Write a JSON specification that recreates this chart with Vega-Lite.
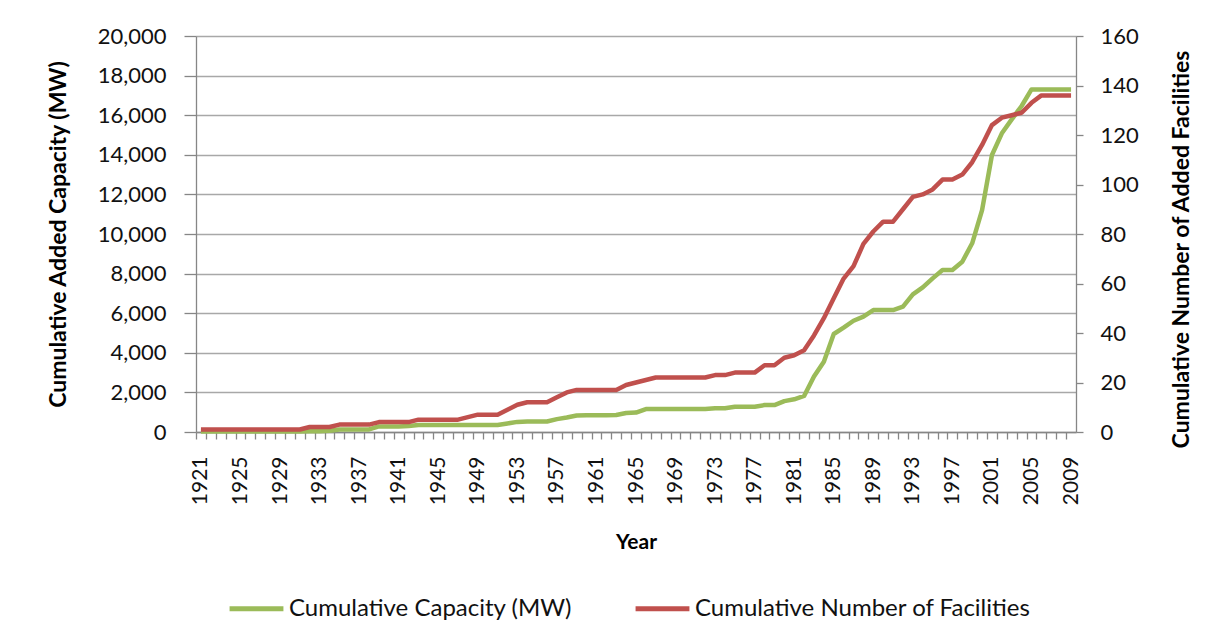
{
  "$schema": "https://vega.github.io/schema/vega-lite/v6.json",
  "autosize": "none",
  "width": 880,
  "height": 396,
  "padding": {"left": 196, "top": 36, "right": 149, "bottom": 211},
  "background": "white",
  "config": {
    "font": "Lato",
    "view": {"stroke": null},
    "axis": {"labelFont": "Lato", "titleFont": "Lato", "labelColor": "#111", "titleColor": "#000", "domainColor": "#868686", "tickColor": "#868686", "gridColor": "#A8A8A8", "domainWidth": 1.3, "tickWidth": 1.3, "gridWidth": 1.3},
    "legend": {"labelFont": "Lato", "labelFontSize": 24, "labelColor": "#111", "labelLimit": 0, "symbolType": "stroke", "symbolStrokeWidth": 5, "symbolSize": 2900, "labelOffset": 3, "columnPadding": 52, "padding": 0}
  },
  "data": {"values": [
    {"year": 1921, "capacity": 20, "facilities": 1},
    {"year": 1922, "capacity": 20, "facilities": 1},
    {"year": 1923, "capacity": 20, "facilities": 1},
    {"year": 1924, "capacity": 20, "facilities": 1},
    {"year": 1925, "capacity": 20, "facilities": 1},
    {"year": 1926, "capacity": 20, "facilities": 1},
    {"year": 1927, "capacity": 20, "facilities": 1},
    {"year": 1928, "capacity": 20, "facilities": 1},
    {"year": 1929, "capacity": 20, "facilities": 1},
    {"year": 1930, "capacity": 20, "facilities": 1},
    {"year": 1931, "capacity": 20, "facilities": 1},
    {"year": 1932, "capacity": 40, "facilities": 2},
    {"year": 1933, "capacity": 40, "facilities": 2},
    {"year": 1934, "capacity": 60, "facilities": 2},
    {"year": 1935, "capacity": 130, "facilities": 3},
    {"year": 1936, "capacity": 130, "facilities": 3},
    {"year": 1937, "capacity": 130, "facilities": 3},
    {"year": 1938, "capacity": 130, "facilities": 3},
    {"year": 1939, "capacity": 280, "facilities": 4},
    {"year": 1940, "capacity": 280, "facilities": 4},
    {"year": 1941, "capacity": 280, "facilities": 4},
    {"year": 1942, "capacity": 300, "facilities": 4},
    {"year": 1943, "capacity": 350, "facilities": 5},
    {"year": 1944, "capacity": 350, "facilities": 5},
    {"year": 1945, "capacity": 350, "facilities": 5},
    {"year": 1946, "capacity": 350, "facilities": 5},
    {"year": 1947, "capacity": 350, "facilities": 5},
    {"year": 1948, "capacity": 350, "facilities": 6},
    {"year": 1949, "capacity": 350, "facilities": 7},
    {"year": 1950, "capacity": 350, "facilities": 7},
    {"year": 1951, "capacity": 350, "facilities": 7},
    {"year": 1952, "capacity": 430, "facilities": 9},
    {"year": 1953, "capacity": 510, "facilities": 11},
    {"year": 1954, "capacity": 530, "facilities": 12},
    {"year": 1955, "capacity": 530, "facilities": 12},
    {"year": 1956, "capacity": 530, "facilities": 12},
    {"year": 1957, "capacity": 650, "facilities": 14},
    {"year": 1958, "capacity": 730, "facilities": 16},
    {"year": 1959, "capacity": 830, "facilities": 17},
    {"year": 1960, "capacity": 850, "facilities": 17},
    {"year": 1961, "capacity": 850, "facilities": 17},
    {"year": 1962, "capacity": 850, "facilities": 17},
    {"year": 1963, "capacity": 860, "facilities": 17},
    {"year": 1964, "capacity": 960, "facilities": 19},
    {"year": 1965, "capacity": 980, "facilities": 20},
    {"year": 1966, "capacity": 1160, "facilities": 21},
    {"year": 1967, "capacity": 1160, "facilities": 22},
    {"year": 1968, "capacity": 1160, "facilities": 22},
    {"year": 1969, "capacity": 1160, "facilities": 22},
    {"year": 1970, "capacity": 1160, "facilities": 22},
    {"year": 1971, "capacity": 1160, "facilities": 22},
    {"year": 1972, "capacity": 1160, "facilities": 22},
    {"year": 1973, "capacity": 1200, "facilities": 23},
    {"year": 1974, "capacity": 1200, "facilities": 23},
    {"year": 1975, "capacity": 1280, "facilities": 24},
    {"year": 1976, "capacity": 1280, "facilities": 24},
    {"year": 1977, "capacity": 1280, "facilities": 24},
    {"year": 1978, "capacity": 1360, "facilities": 27},
    {"year": 1979, "capacity": 1360, "facilities": 27},
    {"year": 1980, "capacity": 1560, "facilities": 30},
    {"year": 1981, "capacity": 1650, "facilities": 31},
    {"year": 1982, "capacity": 1820, "facilities": 33},
    {"year": 1983, "capacity": 2800, "facilities": 39},
    {"year": 1984, "capacity": 3550, "facilities": 46},
    {"year": 1985, "capacity": 4950, "facilities": 54},
    {"year": 1986, "capacity": 5270, "facilities": 62},
    {"year": 1987, "capacity": 5620, "facilities": 67},
    {"year": 1988, "capacity": 5830, "facilities": 76},
    {"year": 1989, "capacity": 6160, "facilities": 81},
    {"year": 1990, "capacity": 6160, "facilities": 85},
    {"year": 1991, "capacity": 6160, "facilities": 85},
    {"year": 1992, "capacity": 6330, "facilities": 90},
    {"year": 1993, "capacity": 6950, "facilities": 95},
    {"year": 1994, "capacity": 7300, "facilities": 96},
    {"year": 1995, "capacity": 7760, "facilities": 98},
    {"year": 1996, "capacity": 8180, "facilities": 102},
    {"year": 1997, "capacity": 8180, "facilities": 102},
    {"year": 1998, "capacity": 8600, "facilities": 104},
    {"year": 1999, "capacity": 9530, "facilities": 109},
    {"year": 2000, "capacity": 11210, "facilities": 116},
    {"year": 2001, "capacity": 13990, "facilities": 124},
    {"year": 2002, "capacity": 15085, "facilities": 127},
    {"year": 2003, "capacity": 15790, "facilities": 128},
    {"year": 2004, "capacity": 16465, "facilities": 129},
    {"year": 2005, "capacity": 17300, "facilities": 133},
    {"year": 2006, "capacity": 17300, "facilities": 136},
    {"year": 2007, "capacity": 17300, "facilities": 136},
    {"year": 2008, "capacity": 17300, "facilities": 136},
    {"year": 2009, "capacity": 17300, "facilities": 136}
  ]},
  "encoding": {
    "x": {
      "field": "year", "type": "quantitative",
      "scale": {"domain": [1920.5, 2009.5], "nice": false, "zero": false},
      "axis": {
        "title": "Year", "titleFontSize": 21, "titleFontWeight": "bold", "titlePadding": 27,
        "values": [1921,1922,1923,1924,1925,1926,1927,1928,1929,1930,1931,1932,1933,1934,1935,1936,1937,1938,1939,1940,1941,1942,1943,1944,1945,1946,1947,1948,1949,1950,1951,1952,1953,1954,1955,1956,1957,1958,1959,1960,1961,1962,1963,1964,1965,1966,1967,1968,1969,1970,1971,1972,1973,1974,1975,1976,1977,1978,1979,1980,1981,1982,1983,1984,1985,1986,1987,1988,1989,1990,1991,1992,1993,1994,1995,1996,1997,1998,1999,2000,2001,2002,2003,2004,2005,2006,2007,2008,2009,2010],
        "labelExpr": "(datum.value - 1921) % 4 == 0 && datum.value <= 2009 ? '' + datum.value : ''",
        "labelAngle": -90, "labelFontSize": 21, "labelPadding": 17,
        "labelOverlap": false, "labelBound": false, "labelFlush": false,
        "tickOffset": -4.944, "labelOffset": 4.944, "tickSize": 7, "grid": false
      }
    }
  },
  "layer": [
    {
      "mark": {"type": "line", "strokeWidth": 4.5, "strokeJoin": "round"},
      "encoding": {
        "y": {
          "field": "capacity", "type": "quantitative",
          "scale": {"domain": [0, 20000], "nice": false},
          "axis": {
            "title": "Cumulative Added Capacity (MW)", "titleFontSize": 23, "titleFontWeight": "bold", "titlePadding": 27,
            "values": [0,2000,4000,6000,8000,10000,12000,14000,16000,18000,20000],
            "labelExpr": "format(datum.value, ',d')", "labelFontSize": 22, "labelPadding": 18, "tickSize": 12, "grid": true
          }
        },
        "color": {
          "datum": "Cumulative Capacity (MW)", "type": "nominal",
          "scale": {"domain": ["Cumulative Capacity (MW)", "Cumulative Number of Facilities"], "range": ["#9BBB59", "#C0504D"]},
          "legend": {"title": null, "orient": "none", "direction": "horizontal", "legendX": 31, "legendY": 543}
        }
      }
    },
    {
      "mark": {"type": "line", "strokeWidth": 4.5, "strokeJoin": "round"},
      "encoding": {
        "y": {
          "field": "facilities", "type": "quantitative",
          "scale": {"domain": [0, 160], "nice": false},
          "axis": {
            "orient": "right",
            "title": "Cumulative Number of Added Facilities", "titleFontSize": 23, "titleFontWeight": "bold", "titlePadding": 55, "titleAngle": 270, "titleY": 213,
            "values": [0,20,40,60,80,100,120,140,160],
            "labelFontSize": 22, "labelPadding": 17, "tickSize": 7, "grid": false
          }
        },
        "color": {"datum": "Cumulative Number of Facilities", "type": "nominal"}
      }
    }
  ],
  "resolve": {"scale": {"y": "independent"}}
}
